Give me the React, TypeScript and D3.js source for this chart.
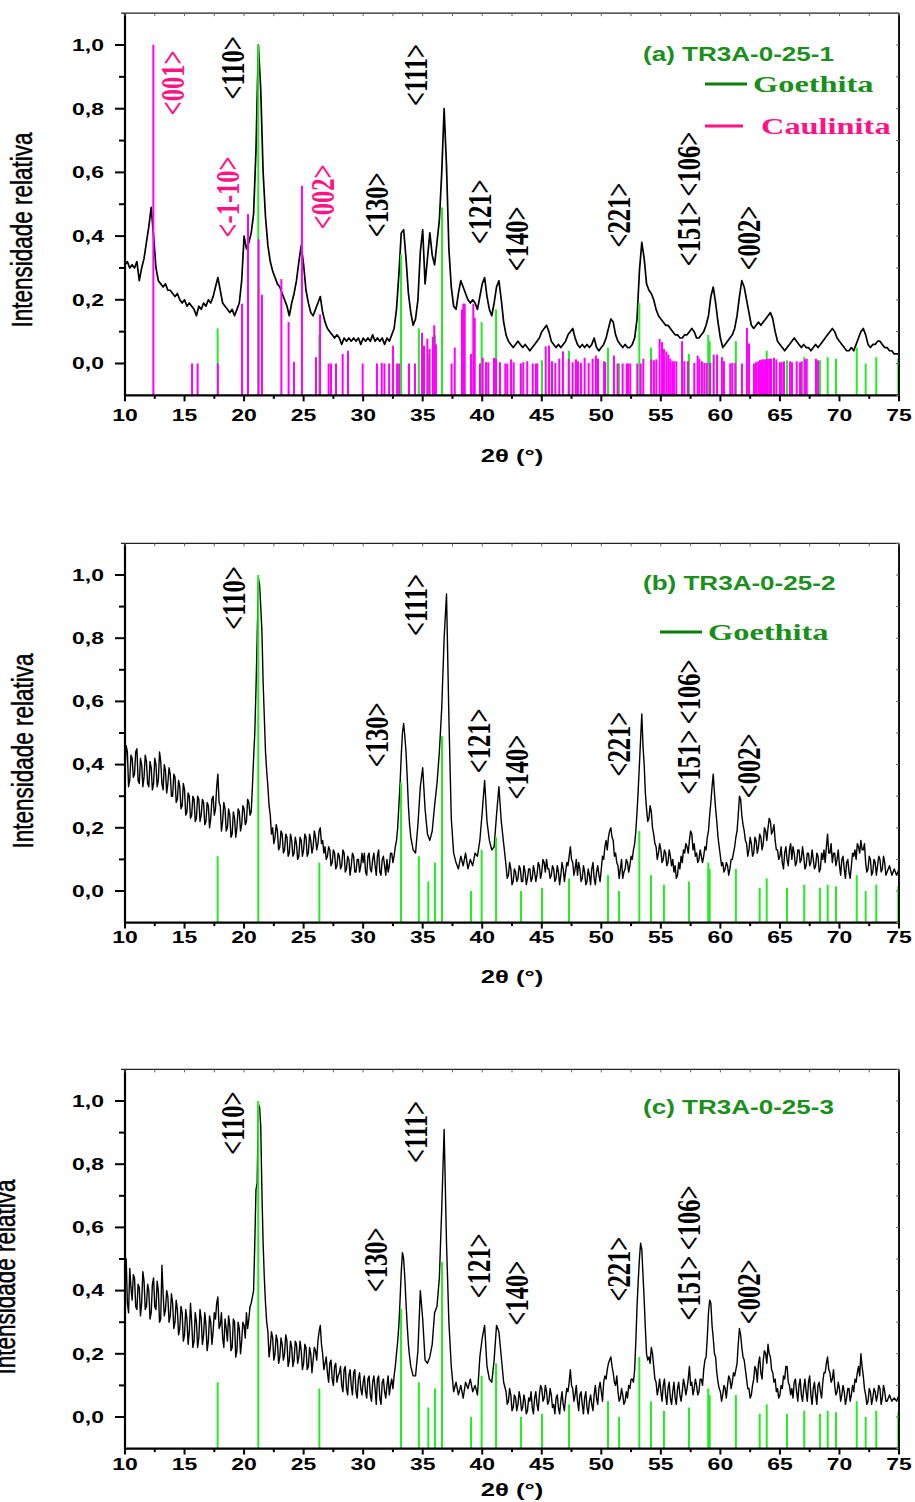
import React from "react";
import * as d3 from "d3";

// ---------- data ----------
// Each curve row covers 2 degrees of 2θ, starting at 10°. Rows with 20 values are
// sampled every 0.1°, rows with 10 values every 0.2° (last row: 74–75° at 0.2°).
const THETA_START = 10;
const ROW_SPAN = 2;
const COARSE_STEP = 0.2;
const FINE_STEP = 0.1;

const xTickValues = [10, 15, 20, 25, 30, 35, 40, 45, 50, 55, 60, 65, 70, 75];
const xTickLabels = ["10", "15", "20", "25", "30", "35", "40", "45", "50", "55", "60", "65", "70", "75"];
const xMinorTicks = [12.5, 17.5, 22.5, 27.5, 32.5, 37.5, 42.5, 47.5, 52.5, 57.5, 62.5, 67.5, 72.5];
const yTickValues = [0, 0.2, 0.4, 0.6, 0.8, 1.0];
const yTickLabels = ["0,0", "0,2", "0,4", "0,6", "0,8", "1,0"];
const yMinorTicks = [0.1, 0.3, 0.5, 0.7, 0.9];
const rightMinorTicks = [-0.1, 0, 0.1, 0.2, 0.3, 0.4, 0.5, 0.6, 0.7, 0.8, 0.9, 1.0, 1.1];

// (a) TR3A-0-25-1
const curveA: number[][] = [
  [0.31, 0.32, 0.30, 0.31, 0.30, 0.32, 0.26, 0.30, 0.33, 0.38],
  [0.43, 0.49, 0.40, 0.30, 0.26, 0.25, 0.24, 0.25, 0.23, 0.23],
  [0.22, 0.21, 0.22, 0.20, 0.19, 0.20, 0.18, 0.19, 0.18, 0.17],
  [0.15, 0.18, 0.17, 0.19, 0.18, 0.20, 0.19, 0.21, 0.24, 0.27],
  [0.23, 0.19, 0.18, 0.17, 0.16, 0.17, 0.15, 0.17, 0.19, 0.26],
  [0.40, 0.36, 0.38, 0.41, 0.47, 0.67, 1.00, 0.86, 0.60, 0.46],
  [0.37, 0.32, 0.29, 0.27, 0.25, 0.24, 0.22, 0.20, 0.18, 0.15],
  [0.19, 0.22, 0.26, 0.32, 0.37, 0.31, 0.23, 0.19, 0.16, 0.15],
  [0.17, 0.19, 0.21, 0.16, 0.13, 0.11, 0.10, 0.09, 0.08, 0.09],
  [0.08, 0.06, 0.08, 0.07, 0.08, 0.07, 0.08, 0.07, 0.08, 0.06],
  [0.08, 0.07, 0.08, 0.07, 0.09, 0.07, 0.08, 0.07, 0.08, 0.06],
  [0.08, 0.07, 0.09, 0.11, 0.17, 0.28, 0.41, 0.42, 0.33, 0.22],
  [0.16, 0.12, 0.14, 0.20, 0.35, 0.42, 0.25, 0.33, 0.41, 0.34],
  [0.31, 0.38, 0.45, 0.60, 0.80, 0.62, 0.36, 0.24, 0.18, 0.17],
  [0.22, 0.26, 0.24, 0.22, 0.20, 0.19, 0.20, 0.19, 0.17, 0.21],
  [0.25, 0.27, 0.21, 0.17, 0.15, 0.19, 0.24, 0.26, 0.20, 0.13],
  [0.09, 0.07, 0.06, 0.05, 0.06, 0.07, 0.06, 0.05, 0.06, 0.05],
  [0.04, 0.05, 0.06, 0.07, 0.08, 0.10, 0.11, 0.12, 0.10, 0.07],
  [0.06, 0.05, 0.06, 0.05, 0.06, 0.07, 0.09, 0.10, 0.11, 0.08],
  [0.06, 0.05, 0.06, 0.05, 0.06, 0.05, 0.06, 0.08, 0.05, 0.04],
  [0.05, 0.06, 0.08, 0.11, 0.14, 0.13, 0.09, 0.07, 0.06, 0.05],
  [0.06, 0.05, 0.05, 0.06, 0.08, 0.14, 0.29, 0.38, 0.33, 0.25],
  [0.23, 0.22, 0.20, 0.17, 0.15, 0.14, 0.13, 0.12, 0.12, 0.11],
  [0.10, 0.09, 0.09, 0.08, 0.08, 0.09, 0.09, 0.10, 0.11, 0.10],
  [0.08, 0.08, 0.09, 0.10, 0.12, 0.15, 0.21, 0.24, 0.19, 0.13],
  [0.08, 0.05, 0.06, 0.07, 0.08, 0.09, 0.11, 0.15, 0.21, 0.26],
  [0.24, 0.20, 0.16, 0.12, 0.11, 0.12, 0.13, 0.12, 0.13, 0.14],
  [0.15, 0.16, 0.14, 0.10, 0.07, 0.06, 0.05, 0.04, 0.05, 0.06],
  [0.07, 0.08, 0.07, 0.06, 0.05, 0.06, 0.05, 0.05, 0.04, 0.05],
  [0.06, 0.05, 0.06, 0.07, 0.08, 0.09, 0.10, 0.11, 0.10, 0.08],
  [0.07, 0.06, 0.05, 0.04, 0.04, 0.05, 0.04, 0.06, 0.08, 0.10],
  [0.11, 0.09, 0.06, 0.05, 0.06, 0.06, 0.07, 0.07, 0.06, 0.05],
  [0.05, 0.04, 0.04, 0.03, 0.03, 0.03],
];

// (b) TR3A-0-25-2
const curveB: number[][] = [
  [0.38, 0.46, 0.44, 0.33, 0.35, 0.43, 0.42, 0.36, 0.37, 0.44, 0.45, 0.35, 0.34, 0.42, 0.40, 0.33, 0.36, 0.43, 0.41, 0.34],
  [0.33, 0.41, 0.39, 0.32, 0.34, 0.42, 0.40, 0.33, 0.35, 0.44, 0.41, 0.34, 0.32, 0.40, 0.38, 0.31, 0.34, 0.39, 0.37, 0.30],
  [0.30, 0.37, 0.36, 0.28, 0.29, 0.35, 0.33, 0.26, 0.27, 0.34, 0.32, 0.24, 0.25, 0.31, 0.30, 0.23, 0.24, 0.30, 0.29, 0.22],
  [0.23, 0.30, 0.29, 0.22, 0.24, 0.29, 0.28, 0.21, 0.22, 0.28, 0.27, 0.20, 0.23, 0.29, 0.30, 0.24, 0.26, 0.33, 0.37, 0.28],
  [0.27, 0.19, 0.22, 0.28, 0.26, 0.19, 0.20, 0.26, 0.24, 0.17, 0.18, 0.25, 0.23, 0.17, 0.20, 0.26, 0.25, 0.19, 0.21, 0.27],
  [0.26, 0.21, 0.22, 0.29, 0.28, 0.24, 0.25, 0.33, 0.42, 0.50, 0.64, 0.80, 0.99, 0.97, 0.90, 0.82, 0.66, 0.55, 0.44, 0.38],
  [0.33, 0.27, 0.24, 0.18, 0.20, 0.15, 0.17, 0.21, 0.19, 0.13, 0.14, 0.19, 0.18, 0.12, 0.13, 0.18, 0.17, 0.11, 0.12, 0.18],
  [0.16, 0.11, 0.12, 0.17, 0.15, 0.10, 0.11, 0.17, 0.16, 0.11, 0.13, 0.18, 0.17, 0.11, 0.12, 0.18, 0.16, 0.12, 0.14, 0.19],
  [0.17, 0.13, 0.15, 0.19, 0.20, 0.15, 0.16, 0.12, 0.14, 0.10, 0.11, 0.14, 0.13, 0.08, 0.09, 0.13, 0.12, 0.07, 0.08, 0.12],
  [0.11, 0.07, 0.08, 0.13, 0.12, 0.06, 0.07, 0.11, 0.10, 0.05, 0.08, 0.12, 0.11, 0.06, 0.06, 0.10, 0.10, 0.06, 0.08, 0.12],
  [0.09, 0.12, 0.06, 0.05, 0.11, 0.12, 0.07, 0.06, 0.10, 0.12, 0.08, 0.05, 0.11, 0.13, 0.06, 0.05, 0.10, 0.11, 0.08, 0.05],
  [0.10, 0.06, 0.08, 0.12, 0.12, 0.09, 0.11, 0.14, 0.16, 0.20, 0.27, 0.34, 0.43, 0.50, 0.53, 0.49, 0.44, 0.36, 0.27, 0.21],
  [0.17, 0.13, 0.12, 0.21, 0.33, 0.39, 0.26, 0.18, 0.16, 0.19],
  [0.27, 0.34, 0.44, 0.58, 0.80, 0.94, 0.55, 0.23, 0.12, 0.09],
  [0.07, 0.11, 0.08, 0.12, 0.07, 0.10, 0.08, 0.12, 0.11, 0.16],
  [0.25, 0.35, 0.22, 0.16, 0.13, 0.14, 0.24, 0.33, 0.22, 0.15],
  [0.08, 0.04, 0.05, 0.09, 0.07, 0.02, 0.03, 0.07, 0.06, 0.03, 0.04, 0.08, 0.07, 0.03, 0.03, 0.08, 0.06, 0.02, 0.04, 0.07],
  [0.07, 0.03, 0.04, 0.08, 0.06, 0.03, 0.05, 0.09, 0.08, 0.04, 0.06, 0.10, 0.09, 0.06, 0.10, 0.07, 0.07, 0.04, 0.05, 0.08],
  [0.07, 0.03, 0.04, 0.08, 0.06, 0.02, 0.05, 0.09, 0.07, 0.03, 0.06, 0.09, 0.08, 0.11, 0.14, 0.10, 0.09, 0.05, 0.07, 0.10],
  [0.05, 0.09, 0.07, 0.03, 0.04, 0.08, 0.06, 0.02, 0.03, 0.07, 0.05, 0.02, 0.07, 0.09, 0.04, 0.02, 0.06, 0.08, 0.05, 0.03],
  [0.07, 0.11, 0.10, 0.14, 0.16, 0.13, 0.17, 0.19, 0.20, 0.17, 0.16, 0.11, 0.12, 0.09, 0.08, 0.04, 0.07, 0.10, 0.04, 0.06],
  [0.07, 0.10, 0.09, 0.06, 0.08, 0.11, 0.10, 0.13, 0.15, 0.19, 0.25, 0.32, 0.40, 0.48, 0.56, 0.46, 0.40, 0.31, 0.26, 0.22],
  [0.23, 0.27, 0.25, 0.20, 0.18, 0.15, 0.14, 0.10, 0.12, 0.15, 0.13, 0.09, 0.10, 0.13, 0.12, 0.08, 0.09, 0.13, 0.11, 0.08],
  [0.10, 0.06, 0.08, 0.04, 0.05, 0.09, 0.07, 0.11, 0.09, 0.13, 0.12, 0.15, 0.14, 0.12, 0.16, 0.19, 0.18, 0.13, 0.15, 0.11],
  [0.12, 0.09, 0.10, 0.13, 0.11, 0.09, 0.11, 0.14, 0.13, 0.17, 0.19, 0.24, 0.28, 0.33, 0.37, 0.31, 0.26, 0.22, 0.17, 0.14],
  [0.11, 0.08, 0.09, 0.06, 0.07, 0.09, 0.08, 0.05, 0.07, 0.10, 0.10, 0.12, 0.14, 0.17, 0.19, 0.24, 0.30, 0.29, 0.24, 0.21],
  [0.19, 0.16, 0.15, 0.11, 0.13, 0.17, 0.15, 0.11, 0.12, 0.17, 0.16, 0.12, 0.14, 0.18, 0.17, 0.13, 0.15, 0.20, 0.19, 0.16],
  [0.20, 0.23, 0.22, 0.18, 0.19, 0.21, 0.16, 0.13, 0.13, 0.10, 0.11, 0.14, 0.09, 0.07, 0.12, 0.14, 0.10, 0.08, 0.13, 0.15],
  [0.10, 0.14, 0.12, 0.08, 0.09, 0.13, 0.13, 0.09, 0.10, 0.14, 0.11, 0.07, 0.08, 0.12, 0.12, 0.08, 0.09, 0.13, 0.10, 0.07],
  [0.08, 0.12, 0.11, 0.06, 0.07, 0.12, 0.10, 0.13, 0.09, 0.14, 0.18, 0.12, 0.12, 0.15, 0.09, 0.12, 0.12, 0.08, 0.10, 0.13],
  [0.08, 0.05, 0.10, 0.11, 0.07, 0.04, 0.09, 0.10, 0.06, 0.04, 0.08, 0.12, 0.11, 0.13, 0.10, 0.15, 0.14, 0.12, 0.16, 0.13],
  [0.13, 0.15, 0.09, 0.06, 0.07, 0.11, 0.10, 0.05, 0.06, 0.10, 0.09, 0.05, 0.08, 0.11, 0.10, 0.06, 0.07, 0.11, 0.09, 0.05],
  [0.06, 0.08, 0.05, 0.07, 0.05, 0.07],
];

// (c) TR3A-0-25-3
const curveC: number[][] = [
  [0.43, 0.50, 0.36, 0.33, 0.47, 0.41, 0.37, 0.45, 0.44, 0.35, 0.34, 0.42, 0.41, 0.32, 0.36, 0.46, 0.43, 0.34, 0.35, 0.42],
  [0.40, 0.31, 0.33, 0.42, 0.44, 0.35, 0.34, 0.43, 0.40, 0.30, 0.31, 0.48, 0.39, 0.32, 0.34, 0.40, 0.38, 0.30, 0.32, 0.39],
  [0.36, 0.28, 0.30, 0.37, 0.34, 0.26, 0.28, 0.35, 0.33, 0.24, 0.26, 0.34, 0.31, 0.23, 0.27, 0.36, 0.30, 0.22, 0.24, 0.33],
  [0.30, 0.22, 0.25, 0.34, 0.31, 0.23, 0.26, 0.33, 0.29, 0.21, 0.24, 0.32, 0.30, 0.23, 0.27, 0.33, 0.31, 0.36, 0.38, 0.28],
  [0.29, 0.33, 0.25, 0.22, 0.31, 0.28, 0.24, 0.32, 0.29, 0.21, 0.22, 0.31, 0.30, 0.19, 0.21, 0.30, 0.28, 0.20, 0.24, 0.30],
  [0.29, 0.25, 0.33, 0.28, 0.31, 0.35, 0.36, 0.38, 0.40, 0.55, 0.72, 0.74, 0.99, 0.98, 0.92, 0.71, 0.55, 0.44, 0.36, 0.30],
  [0.27, 0.19, 0.22, 0.27, 0.25, 0.18, 0.20, 0.26, 0.24, 0.17, 0.19, 0.25, 0.23, 0.18, 0.20, 0.26, 0.24, 0.16, 0.18, 0.24],
  [0.22, 0.16, 0.18, 0.24, 0.23, 0.17, 0.19, 0.24, 0.21, 0.15, 0.17, 0.23, 0.22, 0.15, 0.16, 0.22, 0.20, 0.14, 0.18, 0.22],
  [0.21, 0.18, 0.24, 0.27, 0.29, 0.23, 0.20, 0.15, 0.17, 0.19, 0.14, 0.11, 0.17, 0.18, 0.12, 0.10, 0.16, 0.17, 0.11, 0.13],
  [0.14, 0.16, 0.10, 0.08, 0.15, 0.16, 0.09, 0.07, 0.13, 0.15, 0.10, 0.07, 0.14, 0.15, 0.08, 0.06, 0.12, 0.14, 0.09, 0.07],
  [0.11, 0.13, 0.08, 0.06, 0.12, 0.13, 0.07, 0.05, 0.11, 0.13, 0.09, 0.04, 0.12, 0.13, 0.06, 0.04, 0.11, 0.12, 0.08, 0.06],
  [0.10, 0.13, 0.07, 0.10, 0.12, 0.09, 0.13, 0.16, 0.20, 0.24, 0.29, 0.37, 0.46, 0.52, 0.50, 0.44, 0.36, 0.29, 0.23, 0.19],
  [0.16, 0.13, 0.13, 0.21, 0.40, 0.31, 0.18, 0.17, 0.19, 0.23],
  [0.33, 0.35, 0.44, 0.66, 0.91, 0.55, 0.30, 0.16, 0.08, 0.11],
  [0.07, 0.10, 0.06, 0.11, 0.09, 0.12, 0.08, 0.10, 0.07, 0.19],
  [0.25, 0.29, 0.16, 0.12, 0.11, 0.18, 0.29, 0.27, 0.19, 0.11],
  [0.08, 0.04, 0.05, 0.09, 0.07, 0.02, 0.03, 0.07, 0.06, 0.02, 0.04, 0.08, 0.06, 0.02, 0.03, 0.07, 0.05, 0.01, 0.02, 0.06],
  [0.05, 0.08, 0.03, 0.01, 0.06, 0.08, 0.04, 0.02, 0.07, 0.10, 0.09, 0.05, 0.06, 0.10, 0.08, 0.04, 0.05, 0.09, 0.07, 0.03],
  [0.04, 0.01, 0.06, 0.07, 0.03, 0.01, 0.05, 0.08, 0.04, 0.02, 0.06, 0.09, 0.08, 0.11, 0.15, 0.10, 0.09, 0.05, 0.07, 0.10],
  [0.05, 0.02, 0.07, 0.08, 0.04, 0.01, 0.06, 0.08, 0.03, 0.01, 0.05, 0.07, 0.04, 0.02, 0.07, 0.10, 0.06, 0.04, 0.09, 0.11],
  [0.08, 0.05, 0.11, 0.13, 0.12, 0.15, 0.17, 0.18, 0.19, 0.16, 0.14, 0.11, 0.10, 0.13, 0.08, 0.05, 0.06, 0.09, 0.07, 0.04],
  [0.05, 0.08, 0.06, 0.10, 0.09, 0.12, 0.12, 0.11, 0.15, 0.24, 0.35, 0.43, 0.50, 0.55, 0.53, 0.45, 0.37, 0.28, 0.20, 0.18],
  [0.19, 0.17, 0.22, 0.20, 0.16, 0.12, 0.11, 0.07, 0.09, 0.12, 0.08, 0.05, 0.10, 0.12, 0.07, 0.04, 0.09, 0.11, 0.06, 0.04],
  [0.08, 0.11, 0.06, 0.04, 0.09, 0.11, 0.07, 0.05, 0.08, 0.12, 0.10, 0.07, 0.09, 0.12, 0.16, 0.10, 0.11, 0.07, 0.09, 0.12],
  [0.10, 0.07, 0.08, 0.12, 0.12, 0.10, 0.15, 0.18, 0.19, 0.25, 0.33, 0.37, 0.36, 0.29, 0.25, 0.20, 0.19, 0.14, 0.11, 0.09],
  [0.08, 0.05, 0.07, 0.10, 0.09, 0.06, 0.10, 0.13, 0.12, 0.09, 0.11, 0.14, 0.13, 0.15, 0.17, 0.23, 0.28, 0.26, 0.22, 0.19],
  [0.18, 0.15, 0.12, 0.09, 0.09, 0.06, 0.07, 0.10, 0.12, 0.16, 0.15, 0.11, 0.17, 0.19, 0.14, 0.12, 0.18, 0.21, 0.20, 0.17],
  [0.23, 0.20, 0.19, 0.15, 0.14, 0.11, 0.12, 0.08, 0.09, 0.06, 0.07, 0.10, 0.09, 0.13, 0.12, 0.16, 0.16, 0.11, 0.10, 0.07],
  [0.09, 0.06, 0.11, 0.12, 0.08, 0.05, 0.10, 0.12, 0.07, 0.05, 0.09, 0.12, 0.08, 0.05, 0.11, 0.13, 0.07, 0.04, 0.09, 0.11],
  [0.07, 0.04, 0.10, 0.11, 0.08, 0.06, 0.11, 0.14, 0.14, 0.17, 0.19, 0.15, 0.14, 0.11, 0.12, 0.15, 0.10, 0.07, 0.08, 0.11],
  [0.09, 0.05, 0.07, 0.10, 0.08, 0.04, 0.06, 0.09, 0.09, 0.05, 0.07, 0.10, 0.08, 0.12, 0.11, 0.14, 0.16, 0.13, 0.20, 0.16],
  [0.13, 0.09, 0.07, 0.04, 0.05, 0.09, 0.08, 0.04, 0.06, 0.09, 0.08, 0.05, 0.07, 0.10, 0.09, 0.04, 0.06, 0.10, 0.08, 0.05],
  [0.05, 0.07, 0.05, 0.06, 0.05, 0.07],
];

// Goethita reference pattern (2theta, relative intensity)
const goethitaTheta = [17.78, 21.19, 26.32, 33.18, 34.68, 35.47, 36.03, 36.62, 39.06, 39.95, 41.16, 43.26, 45.02, 47.29, 50.56, 51.49, 53.19, 54.17, 55.26, 57.36, 58.98, 59.1, 61.3, 63.3, 63.89, 65.59, 67.04, 68.36, 69.01, 69.71, 71.45, 72.2, 73.09, 74.94];
const goethitaInt = [0.11, 1.0, 0.09, 0.343, 0.11, 0.03, 0.09, 0.49, 0.0, 0.13, 0.17, 0.0, 0.01, 0.04, 0.05, 0.0, 0.19, 0.05, 0.02, 0.03, 0.09, 0.07, 0.07, 0.01, 0.04, 0.01, 0.02, 0.01, 0.02, 0.015, 0.05, 0.0, 0.02, 0.015];

// Caulinita reference pattern (2theta, relative intensity)
const caulinitaTheta = [12.38, 15.63, 16.1, 17.8, 19.83, 20.33, 21.22, 21.5, 23.13, 23.74, 24.19, 24.86, 26.04, 26.38, 27.1, 27.3, 27.72, 28.28, 28.73, 29.96, 31.16, 31.56, 31.79, 32.18, 32.51, 32.85, 33.02, 33.85, 34.35, 34.94, 35.11, 35.39, 35.58, 35.86, 35.97, 36.11, 37.43, 37.69, 38.3, 38.41, 38.53, 39.06, 39.25, 39.37, 39.81, 40.04, 40.32, 40.51, 40.99, 41.16, 41.49, 41.94, 42.11, 42.42, 42.64, 43.23, 43.45, 43.78, 44.24, 44.51, 44.63, 45.33, 45.61, 45.86, 46.14, 46.47, 46.78, 47.26, 47.59, 47.87, 48.04, 48.29, 48.6, 48.94, 49.27, 49.55, 49.72, 50.23, 50.33, 51.06, 51.37, 51.79, 52.13, 52.24, 52.43, 53.02, 53.31, 53.53, 54.2, 54.42, 54.62, 54.9, 55.1, 55.26, 55.46, 55.63, 55.79, 55.96, 56.1, 56.3, 56.78, 56.97, 57.28, 57.81, 58.09, 58.23, 58.45, 58.65, 58.85, 59.13, 59.44, 59.72, 60.13, 60.3, 60.83, 61.0, 61.25, 61.81, 62.23, 62.4, 62.82, 62.99, 63.18, 63.33, 63.49, 63.66, 63.83, 63.97, 64.11, 64.25, 64.5, 64.7, 65.0, 65.15, 65.34, 65.84, 66.01, 66.41, 66.69, 66.83, 67.1, 67.25, 68.03, 68.2];
const caulinitaInt = [1.0, 0, 0, 0, 0.188, 0.469, 0.39, 0.216, 0.265, 0.13, 0.005, 0.558, 0.02, 0.154, 0, 0, 0, 0.03, 0.04, 0, 0, 0.002, 0, 0, 0.056, 0, 0, 0, 0, 0.096, 0.056, 0.078, 0.046, 0.084, 0.12, 0.06, 0, 0.05, 0.17, 0.188, 0.188, 0.03, 0.188, 0.143, 0, 0.018, 0.004, 0.004, 0.018, 0.015, 0.004, 0, 0, 0.013, 0.004, 0, 0.004, 0.007, 0, 0, 0, 0.054, 0.056, 0.007, 0.002, 0.015, 0.038, 0.015, 0.004, 0.013, 0.007, 0.002, 0.018, 0.002, 0.015, 0.025, 0.015, 0.007, 0.004, 0.025, 0, 0, 0, 0, 0, 0, 0, 0.015, 0.013, 0.01, 0.013, 0.077, 0.067, 0.046, 0.038, 0.028, 0.015, 0.007, 0.007, 0.007, 0.07, 0.007, 0.007, 0.002, 0.025, 0.015, 0.007, 0.002, 0.002, 0.002, 0.028, 0.028, 0.02, 0.007, 0, 0.002, 0.002, 0, 0.112, 0.063, 0, 0.004, 0.007, 0.01, 0.013, 0.013, 0.013, 0.015, 0.015, 0.015, 0.018, 0.013, 0.004, 0.004, 0.007, 0.007, 0.004, 0.007, 0.004, 0.007, 0.013, 0.015, 0.015, 0.01];

// Peak annotations (text, 2theta, level) – black = goethita, pink = caulinita
const labelsA = [
  { text: "<110>", theta: 19.07, level: 0.928, kind: "g" },
  { text: "<001>", theta: 14.03, level: 0.881, kind: "k" },
  { text: "<-1-10>", theta: 18.65, level: 0.523, kind: "k" },
  { text: "<002>", theta: 26.63, level: 0.523, kind: "k" },
  { text: "<130>", theta: 31.16, level: 0.498, kind: "g" },
  { text: "<111>", theta: 34.44, level: 0.906, kind: "g" },
  { text: "<121>", theta: 39.81, level: 0.476, kind: "g" },
  { text: "<140>", theta: 42.92, level: 0.391, kind: "g" },
  { text: "<221>", theta: 51.48, level: 0.466, kind: "g" },
  { text: "<151>", theta: 57.36, level: 0.407, kind: "g" },
  { text: "<106>", theta: 57.36, level: 0.626, kind: "g" },
  { text: "<002>", theta: 62.4, level: 0.394, kind: "g" },
];
const labelsB = [
  { text: "<110>", theta: 19.15, level: 0.927, kind: "g" },
  { text: "<130>", theta: 31.16, level: 0.494, kind: "g" },
  { text: "<111>", theta: 34.44, level: 0.905, kind: "g" },
  { text: "<121>", theta: 39.73, level: 0.475, kind: "g" },
  { text: "<140>", theta: 42.92, level: 0.392, kind: "g" },
  { text: "<221>", theta: 51.48, level: 0.465, kind: "g" },
  { text: "<151>", theta: 57.36, level: 0.408, kind: "g" },
  { text: "<106>", theta: 57.36, level: 0.63, kind: "g" },
  { text: "<002>", theta: 62.4, level: 0.396, kind: "g" },
];
const labelsC = [
  { text: "<110>", theta: 19.07, level: 0.93, kind: "g" },
  { text: "<130>", theta: 31.08, level: 0.497, kind: "g" },
  { text: "<111>", theta: 34.44, level: 0.902, kind: "g" },
  { text: "<121>", theta: 39.73, level: 0.478, kind: "g" },
  { text: "<140>", theta: 42.92, level: 0.392, kind: "g" },
  { text: "<221>", theta: 51.48, level: 0.468, kind: "g" },
  { text: "<151>", theta: 57.36, level: 0.408, kind: "g" },
  { text: "<106>", theta: 57.36, level: 0.63, kind: "g" },
  { text: "<002>", theta: 62.4, level: 0.396, kind: "g" },
];

// ---------- styling / layout ----------
const W = 915;
const H = 1502;
const PLOT_LEFT = 125;
const PLOT_RIGHT = 899;
const SX = 1.35; // horizontal stretch of the original figure
const BAR_GREEN = "#22ee22";
const BAR_MAGENTA = "#ff00ff";
const TITLE_GREEN = "#1a8f1a";
const LEGEND_GREEN = "#0b7d0b";
const PINK = "#ff1283";

type Panel = {
  curve: number[][];
  lineWidth: number;
  top: number;
  height: number;
  caulinita: boolean;
  labels: { text: string; theta: number; level: number; kind: string }[];
  title: string;
  titleY: number;
  tickLabelDy: number;
  xTitleDy: number;
  yLabelX: number;
  yLabelY: number;
  legend: { text: string; color: string; lineColor: string; lx1: number; lx2: number; tx: number; y: number }[];
};

const panels: Panel[] = [
  {
    curve: curveA, lineWidth: 1.7, top: 13.15, height: 382.2, caulinita: true, labels: labelsA,
    title: "(a) TR3A-0-25-1", titleY: 54, tickLabelDy: 20, xTitleDy: 60, yLabelX: 22, yLabelY: 230,
    legend: [
      { text: "Goethita", color: TITLE_GREEN, lineColor: LEGEND_GREEN, lx1: 705, lx2: 747, tx: 753, y: 84 },
      { text: "Caulinita", color: PINK, lineColor: PINK, lx1: 705, lx2: 743, tx: 761, y: 126 },
    ],
  },
  {
    curve: curveB, lineWidth: 1.4, top: 543.4, height: 379.2, caulinita: false, labels: labelsB,
    title: "(b) TR3A-0-25-2", titleY: 583, tickLabelDy: 15, xTitleDy: 54, yLabelX: 22.5, yLabelY: 751,
    legend: [
      { text: "Goethita", color: TITLE_GREEN, lineColor: LEGEND_GREEN, lx1: 660, lx2: 702, tx: 708, y: 632 },
    ],
  },
  {
    curve: curveC, lineWidth: 1.4, top: 1069.4, height: 379.2, caulinita: false, labels: labelsC,
    title: "(c) TR3A-0-25-3", titleY: 1107, tickLabelDy: 15.5, xTitleDy: 41, yLabelX: 5, yLabelY: 1277,
    legend: [],
  },
];

function toPoints(rows: number[][]): [number, number][] {
  const pts: [number, number][] = [];
  rows.forEach((row, r) => {
    const step = row.length >= 20 ? FINE_STEP : COARSE_STEP;
    row.forEach((v, j) => pts.push([THETA_START + r * ROW_SPAN + j * step, v]));
  });
  return pts;
}

function SText(props: any) {
  const { x, y, rotate, anchor, children, ...rest } = props;
  return (
    <text
      transform={`translate(${x},${y}) scale(${SX},1)${rotate ? " rotate(-90)" : ""}`}
      textAnchor={anchor || "middle"}
      dominantBaseline="central"
      {...rest}
    >
      {children}
    </text>
  );
}

function PanelView({ p }: { p: Panel }) {
  const x = d3.scaleLinear().domain([10, 75]).range([PLOT_LEFT, PLOT_RIGHT]);
  const y = d3.scaleLinear().domain([-0.1, 1.1]).range([p.top + p.height, p.top]);
  const base = y(-0.1);
  const topY = y(1.1);
  const line = d3
    .line<[number, number]>()
    .x((d) => x(d[0]))
    .y((d) => y(d[1]));
  const pts = toPoints(p.curve);

  return (
    <g>
      <path d={line(pts) || ""} fill="none" stroke="#000" strokeWidth={p.lineWidth} strokeLinejoin="round" />
      {goethitaTheta.map((t, i) => (
        <line key={"g" + i} x1={x(t)} x2={x(t)} y1={base} y2={y(goethitaInt[i])} stroke={BAR_GREEN} strokeWidth={2} />
      ))}
      {p.caulinita &&
        caulinitaTheta.map((t, i) => (
          <line key={"c" + i} x1={x(t)} x2={x(t)} y1={base} y2={y(caulinitaInt[i])} stroke={BAR_MAGENTA} strokeWidth={2} />
        ))}

      {/* frame */}
      <line x1={PLOT_LEFT - 4} x2={PLOT_RIGHT} y1={topY} y2={topY} stroke="#222" strokeWidth={1.3} />
      <line x1={PLOT_RIGHT} x2={PLOT_RIGHT} y1={topY} y2={base} stroke="#111" strokeWidth={2} />
      <line x1={PLOT_LEFT} x2={PLOT_LEFT} y1={topY} y2={base + 1} stroke="#000" strokeWidth={2.2} />
      <line x1={PLOT_LEFT - 1} x2={PLOT_RIGHT + 1} y1={base} y2={base} stroke="#000" strokeWidth={2.2} />

      {/* x ticks */}
      {xTickValues.map((t) => (
        <line key={"xt" + t} x1={x(t)} x2={x(t)} y1={base} y2={base + 6} stroke="#000" strokeWidth={2} />
      ))}
      {xMinorTicks.map((t) => (
        <line key={"xm" + t} x1={x(t)} x2={x(t)} y1={base} y2={base + 3.5} stroke="#000" strokeWidth={2} />
      ))}
      {[...xTickValues, ...xMinorTicks].map((t) => (
        <line key={"xtop" + t} x1={x(t)} x2={x(t)} y1={topY} y2={topY + 3} stroke="#666" strokeWidth={1} />
      ))}
      {xTickValues.map((t, i) => (
        <SText key={"xl" + t} x={x(t)} y={base + p.tickLabelDy} fontFamily="Liberation Sans, Arial, sans-serif" fontWeight="bold" fontSize={17} fill="#000">
          {xTickLabels[i]}
        </SText>
      ))}
      <SText x={(PLOT_LEFT + PLOT_RIGHT) / 2} y={base + p.xTitleDy} fontFamily="Liberation Sans, Arial, sans-serif" fontWeight="bold" fontSize={19} fill="#000">
        {"2θ (°)"}
      </SText>

      {/* y ticks */}
      {yTickValues.map((v) => (
        <line key={"yt" + v} x1={PLOT_LEFT - 10} x2={PLOT_LEFT} y1={y(v)} y2={y(v)} stroke="#000" strokeWidth={2} />
      ))}
      {yMinorTicks.map((v) => (
        <line key={"ym" + v} x1={PLOT_LEFT - 6} x2={PLOT_LEFT} y1={y(v)} y2={y(v)} stroke="#000" strokeWidth={2} />
      ))}
      {rightMinorTicks.map((v) => (
        <line key={"yr" + v} x1={PLOT_RIGHT - 3} x2={PLOT_RIGHT} y1={y(v)} y2={y(v)} stroke="#666" strokeWidth={1} />
      ))}
      {yTickValues.map((v, i) => (
        <SText key={"yl" + v} x={104} y={y(v)} anchor="end" fontFamily="Liberation Sans, Arial, sans-serif" fontWeight="bold" fontSize={17} fill="#000">
          {yTickLabels[i]}
        </SText>
      ))}
      <SText x={p.yLabelX} y={p.yLabelY} rotate fontFamily="Liberation Sans, Arial, sans-serif" fontSize={22.5} stroke="#000" strokeWidth={0.35} fill="#000">
        Intensidade relativa
      </SText>

      {/* peak labels */}
      {p.labels.map((l, i) => (
        <SText
          key={"pl" + i}
          x={x(l.theta)}
          y={y(l.level)}
          rotate
          fontFamily="Liberation Serif, Times New Roman, serif"
          fontWeight="bold"
          fontSize={24.5}
          fill={l.kind === "k" ? PINK : "#000"}
        >
          {l.text}
        </SText>
      ))}

      {/* legend */}
      <SText x={643} y={p.titleY} anchor="start" fontFamily="Liberation Sans, Arial, sans-serif" fontWeight="bold" fontSize={19.3} fill={TITLE_GREEN}>
        {p.title}
      </SText>
      {p.legend.map((it, i) => (
        <g key={"lg" + i}>
          <line x1={it.lx1} x2={it.lx2} y1={it.y} y2={it.y} stroke={it.lineColor} strokeWidth={3} />
          <SText x={it.tx} y={it.y} anchor="start" fontFamily="Liberation Serif, Times New Roman, serif" fontWeight="bold" fontSize={24} fill={it.color}>
            {it.text}
          </SText>
        </g>
      ))}
    </g>
  );
}

export default function App() {
  return (
    <svg
      width={W}
      height={H}
      viewBox={`0 0 ${W} ${H}`}
      style={{ position: "absolute", left: 0, top: 0, background: "#fff" }}
    >
      <rect x={0} y={0} width={W} height={H} fill="#fff" />
      {panels.map((p, i) => (
        <PanelView key={i} p={p} />
      ))}
    </svg>
  );
}
